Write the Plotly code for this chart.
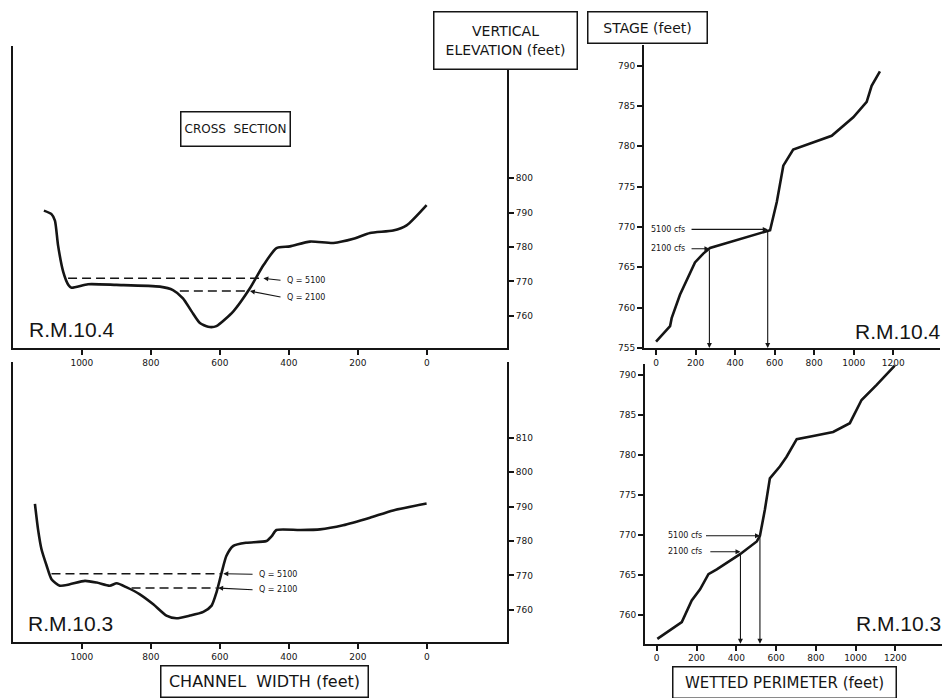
import plotly.graph_objects as go

W, H = 943, 698

# ---------------- DATA ----------------
# Cross section R.M. 10.4 (channel width ft, elevation ft)
xs104_width = [1110, 1088, 1078, 1069, 1054, 1039, 1030, 982, 900, 774, 736, 707, 682, 658, 634, 610,
               561, 513, 474, 436, 397, 339, 271, 213, 165, 98, 59, 1]
xs104_elev = [790.6, 789.6, 787.7, 780.5, 772.8, 769.0, 768.2, 769.2, 769.0, 768.5, 767.5, 765.1, 761.3,
              757.9, 756.8, 757.0, 761.3, 768.0, 774.7, 779.7, 780.2, 781.6, 781.2, 782.4, 784.1, 784.8,
              786.3, 792.2]
# Cross section R.M. 10.3
xs103_width = [1136, 1127, 1117, 1102, 1088, 1064, 1035, 991, 957, 919, 899, 870, 832, 793, 755, 726,
               687, 648, 624, 610, 595, 581, 561, 523, 465, 450, 436, 368, 310, 243, 165, 98, 1]
xs103_elev = [790.8, 783.4, 777.6, 772.8, 768.9, 767.0, 767.4, 768.4, 767.9, 767.0, 767.7, 766.5, 764.5,
              761.6, 758.3, 757.5, 758.3, 759.4, 761.2, 765.0, 770.8, 775.7, 778.6, 779.5, 780.0, 781.4,
              783.2, 783.2, 783.4, 784.6, 786.8, 788.9, 790.9]

# Water surfaces for discharges
q_labels = ["Q = 5100", "Q = 2100"]
q104_elev = [770.9, 767.2]
q104_from = [1040, 716]
q104_to = [479, 518]
q103_elev = [770.5, 766.3]
q103_from = [1088, 856]
q103_to = [595, 610]

# Stage vs wetted perimeter
wp104 = [0, 71, 79, 121, 197, 239, 273, 560, 577, 611, 644, 694, 889, 998, 1066, 1091, 1133]
st104 = [755.8, 757.7, 758.7, 761.6, 765.6, 766.7, 767.4, 769.5, 769.6, 773.1, 777.6, 779.6, 781.3,
         783.6, 785.5, 787.5, 789.3]
wp103 = [3, 126, 176, 218, 260, 302, 419, 503, 519, 544, 569, 620, 653, 704, 787, 887, 971, 1030, 1106, 1197]
st103 = [757.0, 759.1, 761.8, 763.2, 765.1, 765.7, 767.6, 769.2, 769.9, 773.2, 777.1, 778.6, 779.8,
         782.0, 782.4, 782.9, 784.0, 786.9, 788.8, 791.2]

cfs_labels = ["5100 cfs", "2100 cfs"]
cfs104_wp = [565, 270]
cfs104_stage = [769.7, 767.3]
cfs103_wp = [519, 421]
cfs103_stage = [769.9, 767.9]

width_ticks = [1000, 800, 600, 400, 200, 0]
elev_ticks_top = [760, 770, 780, 790, 800]
elev_ticks_bot = [760, 770, 780, 790, 800, 810]
wp_ticks = [0, 200, 400, 600, 800, 1000, 1200]
stage_ticks_top = [755, 760, 765, 770, 775, 780, 785, 790]
stage_ticks_bot = [760, 765, 770, 775, 780, 785, 790]

# ---------------- FIGURE ----------------
INK = "#151515"
FONT = "DejaVu Sans"


def px(x):
    return x / W


def py(y):
    return 1 - y / H


fig = go.Figure()
curve = dict(color=INK, width=2.6)

fig.add_trace(go.Scatter(x=xs104_width, y=xs104_elev, mode="lines", line=dict(shape="spline", smoothing=0.6, **curve),
                         xaxis="x", yaxis="y", showlegend=False))
fig.add_trace(go.Scatter(x=xs103_width, y=xs103_elev, mode="lines", line=dict(shape="spline", smoothing=0.6, **curve),
                         xaxis="x2", yaxis="y2", showlegend=False))
fig.add_trace(go.Scatter(x=wp104, y=st104, mode="lines", line=dict(**curve), xaxis="x3", yaxis="y3", showlegend=False))
fig.add_trace(go.Scatter(x=wp103, y=st103, mode="lines", line=dict(**curve), xaxis="x4", yaxis="y4", showlegend=False))

# dashed water surface lines
for xa, ya, lv, fr, to in [("x", "y", q104_elev, q104_from, q104_to), ("x2", "y2", q103_elev, q103_from, q103_to)]:
    for e, a, b in zip(lv, fr, to):
        fig.add_trace(go.Scatter(x=[a, b], y=[e, e], mode="lines", line=dict(color=INK, width=1.5, dash="9px,5px"),
                                 xaxis=xa, yaxis=ya, showlegend=False))

ann = []
# Q labels with leader arrows (left panels)
for xa, ya, lv, to, lab_x, lab_dy in [("x", "y", q104_elev, q104_to, 412, [-0.6, -1.8]),
                                     ("x2", "y2", q103_elev, q103_to, 493, [-0.2, -0.5])]:
    for lab, e, b, dy in zip(q_labels, lv, to, lab_dy):
        ann.append(dict(x=b - 5, y=e, ax=lab_x + 8, ay=e + dy, xref=xa, yref=ya, axref=xa, ayref=ya,
                        text="", showarrow=True, arrowhead=2, arrowsize=0.9, arrowwidth=1.1, arrowcolor=INK))
        ann.append(dict(x=lab_x, y=e + dy, xref=xa, yref=ya, text=lab, showarrow=False, xanchor="left",
                        yanchor="middle", font=dict(family=FONT, size=8, color=INK)))

# cfs arrows (right panels)
for xa, ya, wps, sts, ybot, txt_x, tail_x in [("x3", "y3", cfs104_wp, cfs104_stage, 755.0, -35, [172, 172]),
                                              ("x4", "y4", cfs103_wp, cfs103_stage, 756.4, 45, [240, 262])]:
    for lab, w, s, tx in zip(cfs_labels, wps, sts, tail_x):
        ann.append(dict(x=w, y=s, ax=tx, ay=s, xref=xa, yref=ya, axref=xa, ayref=ya, text="", showarrow=True,
                        arrowhead=2, arrowsize=0.9, arrowwidth=1.1, arrowcolor=INK))
        ann.append(dict(x=txt_x, y=s, xref=xa, yref=ya, text=lab, showarrow=False, xanchor="left",
                        yanchor="middle", font=dict(family=FONT, size=8, color=INK)))
        ann.append(dict(x=w, y=ybot, ax=w, ay=s, xref=xa, yref=ya, axref=xa, ayref=ya, text="", showarrow=True,
                        arrowhead=2, arrowsize=0.9, arrowwidth=1.1, arrowcolor=INK))

# station labels
big = dict(family="Liberation Sans", size=21, color=INK)
lab = dict(xref="paper", yref="paper", showarrow=False, yanchor="middle", font=big)
ann += [
    dict(x=px(27), y=py(332), text="R.M.10.4", xanchor="left", **lab),
    dict(x=px(26), y=py(628), text="R.M.10.3", xanchor="left", **lab),
    dict(x=px(943), y=py(334), text="R.M.10.4", xanchor="right", **lab),
    dict(x=px(943), y=py(628), text="R.M.10.3", xanchor="right", **lab),
]


def boxed(size):
    return dict(showarrow=False, xref="paper", yref="paper", xanchor="center", yanchor="middle", bgcolor="white",
                bordercolor=INK, borderwidth=1.5, borderpad=0, font=dict(family=FONT, size=size, color=INK))


ann += [
    dict(x=px(235), y=py(130), text="CROSS  SECTION", width=108, height=33, **boxed(12)),
    dict(x=px(505), y=py(41), text="VERTICAL<br>ELEVATION (feet)", width=142, height=56, **boxed(14)),
    dict(x=px(647), y=py(28), text="STAGE (feet)", width=118, height=30, **boxed(14)),
    dict(x=px(264), y=py(686), text="CHANNEL  WIDTH (feet)", width=206, height=30, **boxed(16)),
    dict(x=px(784), y=py(687), text="WETTED PERIMETER (feet)", width=222, height=30, **boxed(15)),
]

tickfont = dict(family=FONT, size=9, color=INK)
common = dict(showline=True, linecolor=INK, linewidth=2, ticks="outside", ticklen=5, tickwidth=1.5,
              tickcolor=INK, showgrid=False, zeroline=False, tickfont=tickfont)

fig.update_layout(
    width=W, height=H, margin=dict(l=0, r=0, t=0, b=0),
    paper_bgcolor="white", plot_bgcolor="white", showlegend=False,
    xaxis=dict(domain=[px(12.5), px(507)], range=[1201, -232], anchor="y", tickvals=width_ticks, **common),
    yaxis=dict(domain=[py(351), py(46)], range=[750.5, 838.6], anchor="x", side="right", mirror=True,
               tickvals=elev_ticks_top, **common),
    xaxis2=dict(domain=[px(12.5), px(507)], range=[1201, -232], anchor="y2", tickvals=width_ticks, **common),
    yaxis2=dict(domain=[py(647), py(365)], range=[750.5, 832.0], anchor="x2", side="right", mirror=True,
                tickvals=elev_ticks_bot, **common),
    xaxis3=dict(domain=[px(644), px(940)], range=[-61, 1437], anchor="y3", tickvals=wp_ticks, **common),
    yaxis3=dict(domain=[py(350.5), py(45)], range=[755.0, 792.6], anchor="x3", tickvals=stage_ticks_top, **common),
    xaxis4=dict(domain=[px(645), px(941.7)], range=[-59, 1433], anchor="y4", tickvals=wp_ticks, **common),
    yaxis4=dict(domain=[py(648.3), py(366.7)], range=[756.4, 791.4], anchor="x4", tickvals=stage_ticks_bot, **common),
    annotations=ann,
)

fig.write_html("out.html")
